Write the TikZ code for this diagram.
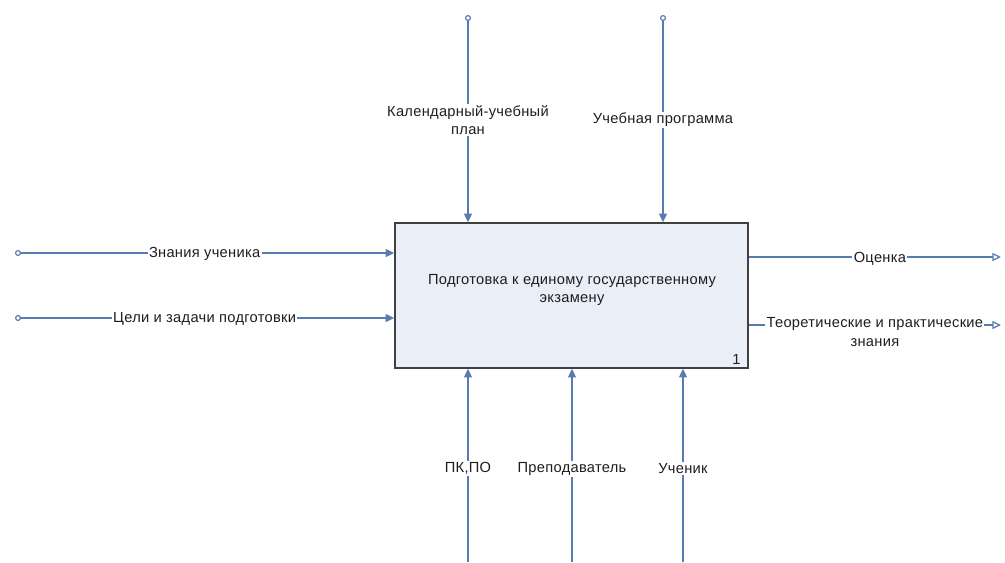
\documentclass[tikz,border=0pt]{standalone}
\usepackage{fontspec}
\setmainfont{Liberation Sans}[LetterSpace=2]
\usetikzlibrary{arrows.meta}
\definecolor{arrowblue}{RGB}{88,124,176}
\definecolor{boxfill}{RGB}{233,238,247}
\definecolor{boxline}{RGB}{64,64,64}
\definecolor{txt}{RGB}{30,30,30}
\begin{document}
\begin{tikzpicture}[x=0.75pt,y=-0.75pt,
  font=\fontsize{11}{14}\selectfont, text=txt,
  flow/.style={draw=arrowblue, line width=0.9pt},
  inarrow/.style={flow, {Circle[open,length=4.5pt,width=4.5pt]}-{Triangle[length=6.5pt,width=6pt]}},
  outarrow/.style={flow, -{Triangle[open,length=6.5pt,width=6pt]}},
  mecharrow/.style={flow, -{Triangle[length=6.5pt,width=6pt]}},
  lab/.style={fill=white, inner sep=1pt, align=center, yshift=-1pt},
  activity/.style={draw=boxline, fill=boxfill, line width=1.1pt, minimum width=353*0.75pt, minimum height=145*0.75pt, inner sep=0pt, align=center}
]
\useasboundingbox (0,0) rectangle (1005,562);

% activity box
\node[activity] (act) at (571.5,295.5) {};
\node[align=center] (acttxt) at (572,290) {Подготовка к единому государственному\\экзамену};
\node[anchor=south east, inner sep=0pt] (num) at ([xshift=-6pt,yshift=3pt]act.south east) {1};

% free ends of the connectors
\coordinate (in1) at (15,253);
\coordinate (in2) at (15,318);
\coordinate (c1) at (468,15);
\coordinate (c2) at (663,15);
\coordinate (o1) at (1001,257);
\coordinate (o2) at (1001,325);
\coordinate (m1) at (468,562);
\coordinate (m2) at (572,562);
\coordinate (m3) at (683,562);

% inputs
\draw[inarrow] (in1) -- node[lab] (l1) {Знания ученика} (in1 -| act.west);
\draw[inarrow] (in2) -- node[lab] (l2) {Цели и задачи подготовки} (in2 -| act.west);

% controls
\draw[inarrow] (c1) -- node[lab] (l3) {Календарный-учебный\\план} (c1 |- act.north);
\draw[inarrow] (c2) -- node[lab] (l4) {Учебная программа} (c2 |- act.north);

% outputs
\draw[outarrow] (o1 -| act.east) -- node[lab, pos=0.52] (l5) {Оценка} (o1);
\draw[outarrow] (o2 -| act.east) -- node[lab, pos=0.5, anchor=north, yshift=8pt] (l6) {Теоретические и практические\\знания} (o2);

% mechanisms
\draw[mecharrow] (m1) -- node[lab, pos=0.49] (l7) {ПК,ПО} (m1 |- act.south);
\draw[mecharrow] (m2) -- node[lab, pos=0.49] (l8) {Преподаватель} (m2 |- act.south);
\draw[mecharrow] (m3) -- node[lab, pos=0.49] (l9) {Ученик} (m3 |- act.south);
\end{tikzpicture}
\end{document}
